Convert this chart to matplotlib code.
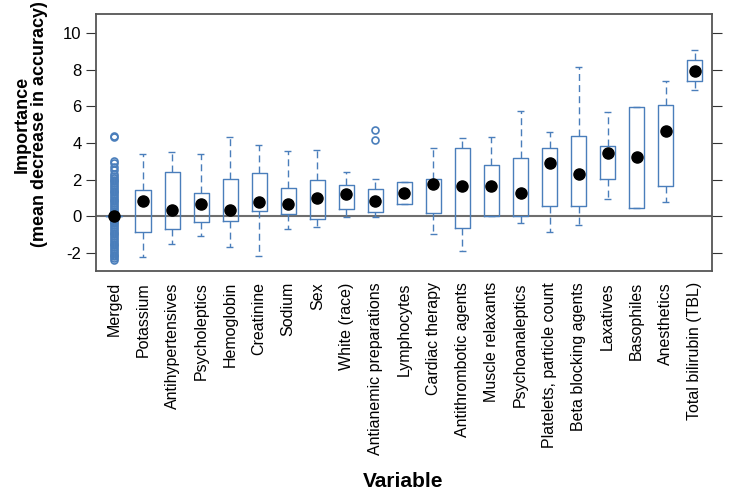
import matplotlib
matplotlib.use("Agg")
import matplotlib.pyplot as plt

plt.rcParams['font.family'] = ['Liberation Sans', 'DejaVu Sans']
plt.rcParams['axes.unicode_minus'] = False

variables = ["Merged", "Potassium", "Antihypertensives", "Psycholeptics", "Hemoglobin",
             "Creatinine", "Sodium", "Sex", "White (race)", "Antianemic preparations",
             "Lymphocytes", "Cardiac therapy", "Antithrombotic agents", "Muscle relaxants",
             "Psychoanaleptics", "Platelets, particle count", "Beta blocking agents",
             "Laxatives", "Basophiles", "Anesthetics", "Total bilirubin (TBL)"]

# lower whisker, Q1, Q3, upper whisker, dot (mean)
whislo = [0.0, -2.22, -1.55, -1.09, -1.68, -2.19, -0.73, -0.62, -0.05, -0.05, 0.66,
          -0.95, -1.91, -0.02, -0.36, -0.86, -0.49, 0.93, 0.44, 0.75, 6.89]
q1 = [0.0, -0.86, -0.73, -0.33, -0.27, 0.27, 0.09, -0.15, 0.38, 0.20, 0.66,
      0.15, -0.64, -0.02, 0.0, 0.55, 0.56, 2.02, 0.44, 1.64, 7.38]
q3 = [0.0, 1.42, 2.42, 1.24, 2.04, 2.35, 1.55, 1.95, 1.68, 1.48, 1.88,
      2.04, 3.75, 2.79, 3.19, 3.75, 4.39, 3.83, 5.97, 6.08, 8.54]
whishi = [0.0, 3.37, 3.48, 3.37, 4.32, 3.88, 3.57, 3.60, 2.42, 2.02, 1.88,
          3.73, 4.28, 4.32, 5.74, 4.61, 8.16, 5.70, 5.97, 7.39, 9.07]
dots = [0.0, 0.84, 0.33, 0.69, 0.33, 0.78, 0.64, 0.97, 1.22, 0.82, 1.29,
        1.73, 1.66, 1.66, 1.24, 2.91, 2.31, 3.46, 3.21, 4.63, 7.92]

merged_fliers = [-2.4, -2.3, -2.2, -2.1, -2.0, -1.9, -1.8, -1.7, -1.6, -1.5, -1.4, -1.3,
                 -1.2, -1.1, -1.0, -0.9, -0.8, -0.7, -0.6, -0.5, -0.4, -0.3, -0.2, -0.1,
                 0.1, 0.2, 0.3, 0.4, 0.5, 0.6, 0.7, 0.8, 0.9, 1.0, 1.1, 1.2, 1.3, 1.4,
                 1.5, 1.6, 1.7, 1.8, 1.9, 2.0, 2.1, 2.2, 2.3, 2.5, 2.7, 2.9, 3.0,
                 4.3, 4.4]
antianemic_fliers = [4.17, 4.70]

blue = "#4a7ebb"

stats = []
for i, name in enumerate(variables):
    fl = []
    if name == "Merged":
        fl = merged_fliers
    elif name == "Antianemic preparations":
        fl = antianemic_fliers
    stats.append(dict(label=name, whislo=whislo[i], q1=q1[i], med=dots[i], q3=q3[i],
                      whishi=whishi[i], mean=dots[i], fliers=fl))

fig = plt.figure(figsize=(7.3, 4.96), dpi=100)
ax = fig.add_axes([0.1315, 0.4536, 0.8435, 0.5182])

ax.axhline(0, color="#6e6e6e", lw=1.5, zorder=1)

ax.bxp(stats, positions=range(1, len(variables) + 1), widths=0.52, showmeans=True,
       boxprops=dict(color=blue, lw=1.0),
       whiskerprops=dict(color=blue, lw=1.0, linestyle=(0, (5, 3))),
       capprops=dict(color=blue, lw=1.0, linestyle=(0, (5, 3))),
       medianprops=dict(lw=0),
       meanprops=dict(marker="o", markerfacecolor="black", markeredgecolor="black",
                      markersize=8),
       flierprops=dict(marker="o", markerfacecolor="none", markeredgecolor=blue,
                       markersize=5, markeredgewidth=1.2))

ax.set_xlim(0.38, 21.585)
ax.set_ylim(-3.0, 11.05)
ax.set_yticks([-2, 0, 2, 4, 6, 8, 10])
ax.tick_params(axis="y", which="both", left=True, right=True, direction="out",
               length=7, labelsize=12, colors="#333333", labelcolor="black")
ax.tick_params(axis="x", length=0, labelsize=11.5, pad=8)
plt.setp(ax.get_xticklabels(), rotation=90)

for s in ax.spines.values():
    s.set_color("#555555")
    s.set_linewidth(1.3)

# axis titles
fig.text(0.042, 0.75, "Importance\n(mean decrease in accuracy)", fontsize=13,
         fontweight="bold", rotation=90, ha="center", va="center", linespacing=1.0)
fig.text(0.552, 0.018, "Variable", fontsize=15, fontweight="bold", ha="center")

fig.savefig("out.png", dpi=100)
